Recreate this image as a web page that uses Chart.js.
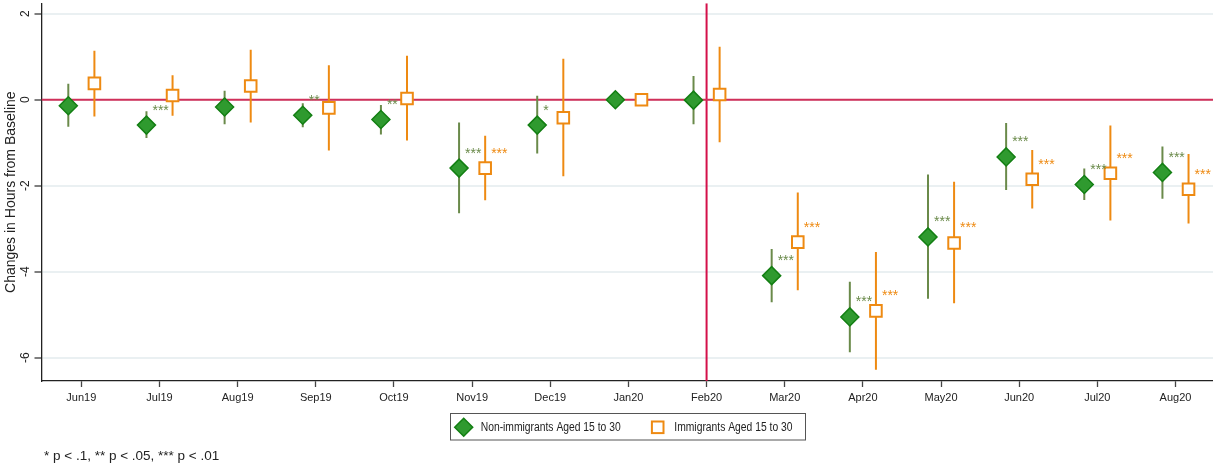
<!DOCTYPE html>
<html>
<head>
<meta charset="utf-8">
<title>Changes in Hours from Baseline</title>
<script src="https://cdn.jsdelivr.net/npm/chart.js@4/dist/chart.umd.min.js"></script>
<style>
  html, body { margin: 0; padding: 0; background: #ffffff; }
  #wrap { position: relative; width: 1213px; height: 466px; }
  canvas { display: block; }
</style>
</head>
<body>
<div id="wrap"><canvas id="chart" width="1213" height="466"></canvas></div>
<script>
// Months of the event study (baseline month: Jan20)
const months = ['Jun19', 'Jul19', 'Aug19', 'Sep19', 'Oct19', 'Nov19', 'Dec19', 'Jan20',
                'Feb20', 'Mar20', 'Apr20', 'May20', 'Jun20', 'Jul20', 'Aug20'];

// Non-immigrants aged 15 to 30: point estimates and confidence bounds
const nonImmEst  = [-0.14, -0.59, -0.17, -0.36, -0.46, -1.59, -0.59, 0, -0.01, -4.09, -5.05, -3.19, -1.33, -1.97, -1.69];
const nonImmLow  = [-0.63, -0.89, -0.57, -0.64, -0.81, -2.64, -1.25, 0, -0.57, -4.71, -5.87, -4.63, -2.10, -2.33, -2.30];
const nonImmHigh = [ 0.37, -0.27,  0.21, -0.08, -0.12, -0.53,  0.09, 0,  0.55, -3.47, -4.23, -1.74, -0.54, -1.60, -1.09];
const nonImmSig  = ['', '***', '', '**', '**', '***', '*', '', '', '***', '***', '***', '***', '***', '***'];

// Immigrants aged 15 to 30: point estimates and confidence bounds
const immEst  = [ 0.38,  0.10,  0.32, -0.19,  0.03, -1.59, -0.42, 0,  0.12, -3.31, -4.91, -3.33, -1.85, -1.71, -2.08];
const immLow  = [-0.39, -0.37, -0.53, -1.18, -0.95, -2.34, -1.78, 0, -0.99, -4.43, -6.28, -4.73, -2.53, -2.81, -2.88];
const immHigh = [ 1.14,  0.57,  1.16,  0.80,  1.02, -0.84,  0.95, 0,  1.23, -2.16, -3.54, -1.91, -1.17, -0.60, -1.26];
const immSig  = ['', '', '', '', '', '***', '', '', '', '***', '***', '***', '***', '***', '***'];

// Y axis ticks and reference lines
const yTickValues = [-6, -4, -2, 0, 2];
const baselineValue = 0;
const breakMonth = 'Feb20';

const seriesNames = ['Non-immigrants Aged 15 to 30', 'Immigrants Aged 15 to 30'];
const footnote = '* p < .1, ** p < .05, *** p < .01';

// ---- styling ----
const GREEN_FILL = '#2f9a2f';
const GREEN_EDGE = '#137f13';
const GREEN_BAR = '#6a8a4a';
const ORANGE = '#ee8a12';
const RED_H = '#d0305a';
const RED_V = '#d4104a';
const SHIFT = 0.167;
const X_MIN = -0.51, X_MAX = 14.48;
const Y_MIN = -6.54, Y_MAX = 2.242;

Chart.defaults.font.family = "'Liberation Sans', Arial, sans-serif";
Chart.defaults.color = '#222';

function pointsOf(values, shift) {
  return values.map((v, i) => ({ x: i + shift, y: v }));
}

// Vertical confidence-interval segments, separated by gaps
function whiskersOf(low, high, shift) {
  const pts = [];
  low.forEach((lo, i) => {
    if (lo === high[i]) return;
    pts.push({ x: i + shift, y: high[i] }, { x: i + shift, y: lo }, { x: i + shift, y: null });
  });
  return pts;
}

const breakIndex = months.indexOf(breakMonth);

// Significance stars next to each marker
const starLabels = {
  id: 'starLabels',
  afterDatasetsDraw(chart) {
    const ctx = chart.ctx;
    const sets = [
      { meta: chart.getDatasetMeta(0), sig: nonImmSig, color: GREEN_BAR },
      { meta: chart.getDatasetMeta(1), sig: immSig, color: ORANGE }
    ];
    ctx.save();
    ctx.font = "14px 'Liberation Sans', Arial, sans-serif";
    ctx.textAlign = 'left';
    ctx.textBaseline = 'alphabetic';
    sets.forEach(s => {
      ctx.fillStyle = s.color;
      s.meta.data.forEach((pt, i) => {
        if (!s.sig[i]) return;
        ctx.fillText(s.sig[i], pt.x + 6, pt.y - 10.5);
      });
    });
    ctx.restore();
  }
};

// Boxed legend below the axis, plus the footnote
const boxedLegend = {
  id: 'boxedLegend',
  afterDraw(chart) {
    const ctx = chart.ctx;
    ctx.save();
    // frame
    ctx.strokeStyle = '#555';
    ctx.lineWidth = 1;
    ctx.strokeRect(450.5, 413.5, 355, 26.5);

    // diamond symbol
    const dx = 463.7, dy = 427.3, r = 9;
    ctx.beginPath();
    ctx.moveTo(dx - r, dy); ctx.lineTo(dx, dy - r); ctx.lineTo(dx + r, dy); ctx.lineTo(dx, dy + r);
    ctx.closePath();
    ctx.fillStyle = GREEN_FILL; ctx.fill();
    ctx.lineWidth = 1.5; ctx.strokeStyle = GREEN_EDGE; ctx.stroke();

    // square symbol
    const sx = 657.7, sy = 427.3, h = 5.8;
    ctx.fillStyle = '#fff';
    ctx.fillRect(sx - h, sy - h, 2 * h, 2 * h);
    ctx.lineWidth = 2; ctx.strokeStyle = ORANGE;
    ctx.strokeRect(sx - h, sy - h, 2 * h, 2 * h);

    // labels (slightly condensed)
    ctx.fillStyle = '#222';
    ctx.font = "12px 'Liberation Sans', Arial, sans-serif";
    ctx.textBaseline = 'middle';
    ctx.textAlign = 'left';
    [[480.7, seriesNames[0]], [674.3, seriesNames[1]]].forEach(([x, t]) => {
      ctx.save();
      ctx.translate(x, 427.5);
      ctx.scale(0.86, 1);
      ctx.fillText(t, 0, 0);
      ctx.restore();
    });

    // footnote
    ctx.font = "13.5px 'Liberation Sans', Arial, sans-serif";
    ctx.textBaseline = 'alphabetic';
    ctx.fillText(footnote, 44, 460);
    ctx.restore();
  }
};

new Chart(document.getElementById('chart'), {
  type: 'scatter',
  data: {
    datasets: [
      {
        label: seriesNames[0],
        data: pointsOf(nonImmEst, -SHIFT),
        pointStyle: 'rectRot',
        pointRadius: 9,
        pointHoverRadius: 9,
        backgroundColor: GREEN_FILL,
        borderColor: GREEN_EDGE,
        borderWidth: 1.5,
        order: 0
      },
      {
        label: seriesNames[1],
        data: pointsOf(immEst, SHIFT),
        pointStyle: 'rect',
        pointRadius: 8.2,
        pointHoverRadius: 8.2,
        backgroundColor: '#ffffff',
        borderColor: ORANGE,
        borderWidth: 2,
        order: 0
      },
      {
        label: 'ci-nonimm',
        data: whiskersOf(nonImmLow, nonImmHigh, -SHIFT),
        showLine: true,
        spanGaps: false,
        pointRadius: 0,
        borderColor: GREEN_BAR,
        borderWidth: 2,
        order: 1
      },
      {
        label: 'ci-imm',
        data: whiskersOf(immLow, immHigh, SHIFT),
        showLine: true,
        spanGaps: false,
        pointRadius: 0,
        borderColor: ORANGE,
        borderWidth: 2,
        order: 1
      },
      {
        label: 'baseline',
        data: [{ x: X_MIN, y: baselineValue }, { x: X_MAX, y: baselineValue }],
        showLine: true,
        pointRadius: 0,
        borderColor: RED_H,
        borderWidth: 2,
        order: 2
      },
      {
        label: 'break',
        data: [{ x: breakIndex, y: Y_MIN }, { x: breakIndex, y: Y_MAX }],
        showLine: true,
        pointRadius: 0,
        borderColor: RED_V,
        borderWidth: 2,
        order: 2
      }
    ]
  },
  options: {
    responsive: false,
    animation: false,
    devicePixelRatio: 1,
    layout: { autoPadding: false, padding: { top: 3.3, right: 0, bottom: 0, left: 0 } },
    plugins: {
      legend: { display: false },
      tooltip: { enabled: false }
    },
    scales: {
      x: {
        type: 'linear',
        min: X_MIN,
        max: X_MAX,
        afterBuildTicks(scale) {
          scale.ticks = months.map((m, i) => ({ value: i }));
        },
        afterFit(scale) {
          scale.height = 85;
          scale.paddingLeft = 0; scale.paddingRight = 0;
          scale.paddingTop = 0; scale.paddingBottom = 0;
        },
        ticks: {
          callback: (v) => months[v],
          font: { size: 11 },
          color: '#222',
          padding: 4.5,
          maxRotation: 0,
          minRotation: 0,
          autoSkip: false
        },
        grid: {
          drawOnChartArea: false,
          drawTicks: true,
          tickLength: 6,
          tickColor: '#444',
          tickWidth: 1.3
        },
        border: { color: '#222', width: 1.3 }
      },
      y: {
        type: 'linear',
        min: Y_MIN,
        max: Y_MAX,
        afterBuildTicks(scale) {
          scale.ticks = yTickValues.map(v => ({ value: v }));
        },
        afterFit(scale) {
          scale.width = 41.5;
          scale.paddingLeft = 0; scale.paddingRight = 0;
          scale.paddingTop = 0; scale.paddingBottom = 0;
        },
        ticks: {
          callback: (v) => String(v),
          font: { size: 12 },
          color: '#222',
          minRotation: 90,
          maxRotation: 90,
          crossAlign: 'center',
          padding: 3
        },
        grid: {
          drawOnChartArea: true,
          color: '#eaf0f2',
          lineWidth: 2,
          drawTicks: true,
          tickLength: 7,
          tickColor: '#555',
          tickWidth: 1.5
        },
        border: { color: '#222', width: 1.3 },
        title: {
          display: true,
          text: 'Changes in Hours from Baseline',
          font: { size: 14 },
          color: '#222',
          padding: { top: 2.6, bottom: 0 }
        }
      }
    }
  },
  plugins: [starLabels, boxedLegend]
});
</script>
</body>
</html>
